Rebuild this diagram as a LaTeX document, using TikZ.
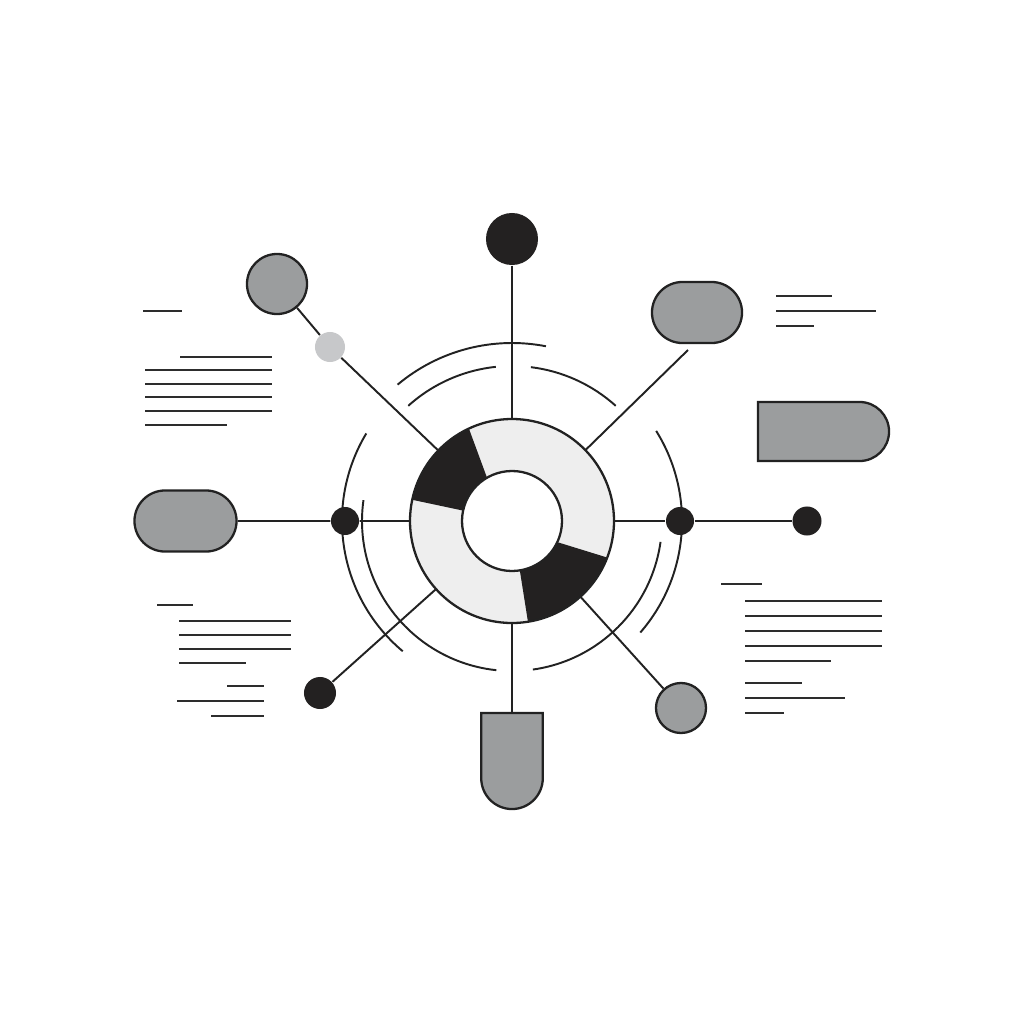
\documentclass[tikz,border=0pt]{standalone}
\usetikzlibrary{shapes.misc,shapes.geometric}
\definecolor{shapegray}{RGB}{155,157,158}
\definecolor{blk}{RGB}{35,33,33}
\definecolor{lightdot}{RGB}{199,200,202}
\definecolor{ringfill}{RGB}{238,238,238}
\definecolor{outl}{RGB}{34,34,34}
\definecolor{txtline}{RGB}{45,45,45}
\tikzset{
  gshape/.style={fill=shapegray, draw=outl, line width=0.65pt, inner sep=0pt},
  blackdot/.style={circle, fill=blk, inner sep=0pt, minimum size=#1},
  spoke/.style={draw=outl, line width=0.55pt},
  ringarc/.style={draw=outl, line width=0.55pt},
  tline/.style={draw=txtline, line width=0.7pt},
}
\begin{document}
\begin{tikzpicture}[x=0.01cm,y=0.01cm]
\useasboundingbox (0,0) rectangle (1024,-1024);
\fill[white] (0,0) rectangle (1024,-1024);
\coordinate (C) at (512,-521);

% ring
\node[circle, fill=ringfill, inner sep=0pt, minimum size=2.04cm] (ring) at (C) {};
\begin{scope}[shift={(C)}]
  \fill[blk] (115:102) arc[start angle=115,end angle=168,radius=102] -- (168:50) arc[start angle=168,end angle=120,radius=50] -- cycle;
  \fill[blk] (-81:102) arc[start angle=-81,end angle=-21,radius=102] -- (-25:50) arc[start angle=-25,end angle=-81,radius=50] -- cycle;
  \draw[outl, line width=0.65pt] (0,0) circle (102);
  \draw[outl, line width=0.65pt, fill=white] (0,0) circle (50);
  % concentric arcs
  \draw[ringarc] (79:178) arc[start angle=79,end angle=130,radius=178];
  \draw[ringarc] (96:155) arc[start angle=96,end angle=132,radius=155];
  \draw[ringarc] (48:155) arc[start angle=48,end angle=83,radius=155];
  \draw[ringarc] (149:170) arc[start angle=149,end angle=230,radius=170];
  \draw[ringarc] (172:150) arc[start angle=172,end angle=264,radius=150];
  \draw[ringarc] (-41:170) arc[start angle=-41,end angle=32,radius=170];
  \draw[ringarc] (-82:150) arc[start angle=-82,end angle=-8,radius=150];
\end{scope}

% outer nodes
\node[blackdot=0.52cm] (top) at (512,-239) {};
\node[gshape, circle, minimum size=0.60cm] (tl) at (277,-284) {};
\node[circle, fill=lightdot, inner sep=0pt, minimum size=0.30cm] (sm) at (330,-347) {};
\node[gshape, rounded rectangle, minimum width=0.90cm, minimum height=0.61cm] (tr) at (697,-312.5) {};
\coordinate (trend) at (688,-350);
\node[gshape, rounded rectangle, rounded rectangle left arc=none, minimum width=1.31cm, minimum height=0.59cm] (rrect) at (823.5,-431.5) {};
\node[gshape, rounded rectangle, minimum width=1.02cm, minimum height=0.61cm] (lcap) at (185.5,-521) {};
\node[blackdot=0.28cm] (ldot) at (345,-521) {};
\node[blackdot=0.28cm] (rdot) at (680,-521) {};
\node[blackdot=0.29cm] (rend) at (807,-521) {};
\node[blackdot=0.32cm] (bldot) at (320,-693) {};
\node[gshape, circle, minimum size=0.50cm] (brc) at (681,-708) {};
\node[gshape, rounded rectangle, rounded rectangle right arc=none, rotate=90, minimum width=0.96cm, minimum height=0.615cm] (bcap) at (512,-761) {};

% spokes
\draw[spoke] (top) -- (ring);
\draw[spoke] (ring) -- (bcap);
\draw[spoke] (lcap) -- (ldot) -- (ring);
\draw[spoke] (ring) -- (rdot) -- (rend);
\draw[spoke] (tl) -- (sm) -- (ring);
\draw[spoke] (trend) -- (ring.44);
\draw[spoke] (bldot) -- (ring);
\draw[spoke] (brc) -- (ring);

% text lines top-left
\draw[tline] (143,-311) -- (182,-311);
\draw[tline] (180,-357) -- (272,-357);
\foreach \y in {370,384,397,411} \draw[tline] (145,-\y) -- (272,-\y);
\draw[tline] (145,-425) -- (227,-425);

% text lines top-right
\draw[tline] (776,-296) -- (832,-296);
\draw[tline] (776,-311) -- (876,-311);
\draw[tline] (776,-326) -- (814,-326);

% text lines bottom-left
\draw[tline] (157,-605) -- (193,-605);
\foreach \y in {621,635,649} \draw[tline] (179,-\y) -- (291,-\y);
\draw[tline] (179,-663) -- (246,-663);
\draw[tline] (227,-686) -- (264,-686);
\draw[tline] (177,-701) -- (264,-701);
\draw[tline] (211,-716) -- (264,-716);

% text lines bottom-right
\draw[tline] (721,-584) -- (762,-584);
\foreach \y in {601,616,631,646} \draw[tline] (745,-\y) -- (882,-\y);
\draw[tline] (745,-661) -- (831,-661);
\draw[tline] (745,-683) -- (802,-683);
\draw[tline] (745,-698) -- (845,-698);
\draw[tline] (745,-713) -- (784,-713);
\end{tikzpicture}
\end{document}
